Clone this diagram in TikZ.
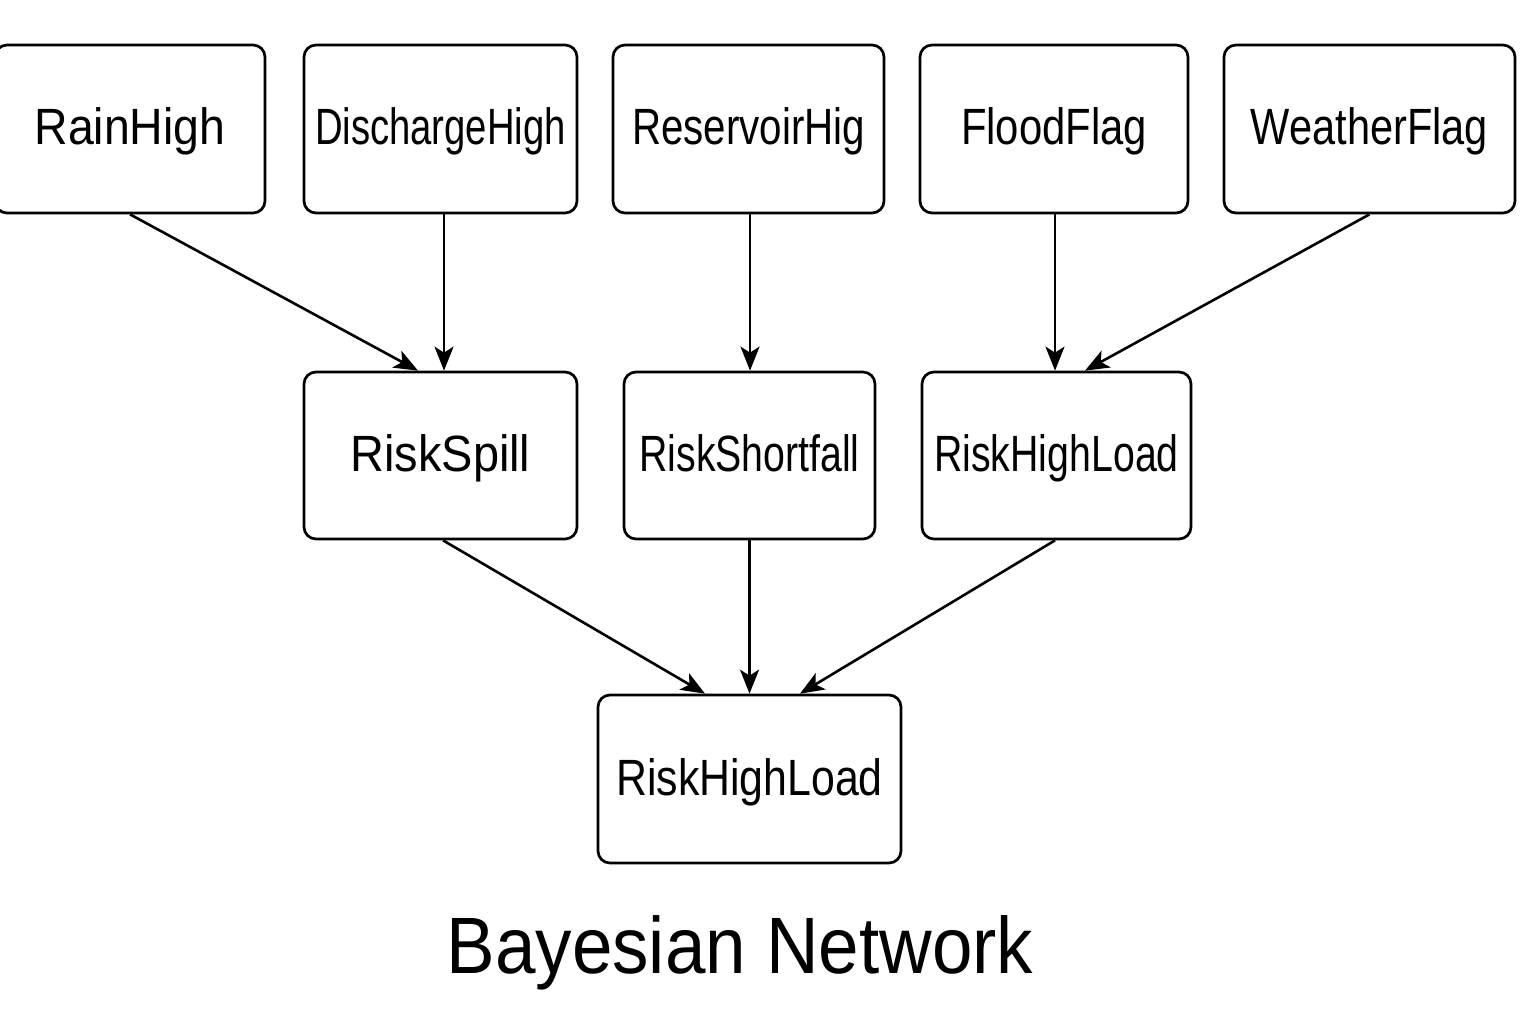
\documentclass[tikz,border=0pt]{standalone}
\usepackage{fontspec}
\setmainfont{Liberation Sans}
\usetikzlibrary{arrows.meta}
\newcommand{\sqz}[2]{\scalebox{#1}[1]{#2}}
\begin{document}
\begin{tikzpicture}[x=1pt,y=-1pt,
  box/.style={draw, line width=2.7pt, rounded corners=12pt, inner sep=0pt,
    minimum height=168pt, text height=37pt, text depth=5pt,
    font=\fontsize{51}{60}\selectfont, align=center},
  link/.style={line width=2.6pt, -{Stealth[length=24pt,width=19pt,inset=6pt]}}]
\useasboundingbox (0,0) rectangle (1536,1024);
% top row
\node[box, minimum width=270pt] (rain) at (130,129) {\sqz{0.91}{RainHigh}};
\node[box, minimum width=273pt] (dis) at (440.5,129) {\sqz{0.75}{DischargeHigh}};
\node[box, minimum width=271pt] (res) at (748.5,129) {\sqz{0.79}{ReservoirHig}};
\node[box, minimum width=268pt] (flood) at (1054,129) {\sqz{0.82}{FloodFlag}};
\node[box, minimum width=291pt] (weather) at (1369.5,129) {\sqz{0.815}{WeatherFlag}};
% middle row
\node[box, minimum width=273pt, minimum height=167pt] (spill) at (440.5,455.5) {\sqz{0.92}{RiskSpill}};
\node[box, minimum width=251pt, minimum height=167pt] (short) at (749.5,455.5) {\sqz{0.77}{RiskShortfall}};
\node[box, minimum width=269pt, minimum height=167pt] (loadm) at (1056.5,455.5) {\sqz{0.77}{RiskHighLoad}};
% bottom
\node[box, minimum width=303pt] (loadb) at (749.5,779) {\sqz{0.84}{RiskHighLoad}};
% title
\node[font=\fontsize{80}{96}\selectfont, inner sep=0pt] (title) at (740,953) {\sqz{0.91}{Bayesian Network}};
% arrows
\draw[link] (rain.south) -- ([xshift=-22.5pt]spill.north);
\draw[link] ([xshift=3.5pt]dis.south) -- ([xshift=3.5pt]spill.north);
\draw[link] ([xshift=1.5pt]res.south) -- ([xshift=0.5pt]short.north);
\draw[link] ([xshift=1pt]flood.south) -- ([xshift=-1.5pt]loadm.north);
\draw[link] (weather.south) -- ([xshift=28.5pt]loadm.north);
\draw[link] ([xshift=2.5pt]spill.south) -- ([xshift=-44.5pt]loadb.north);
\draw[link] (short.south) -- (loadb.north);
\draw[link] ([xshift=-1.5pt]loadm.south) -- ([xshift=50.5pt]loadb.north);
\end{tikzpicture}
\end{document}
